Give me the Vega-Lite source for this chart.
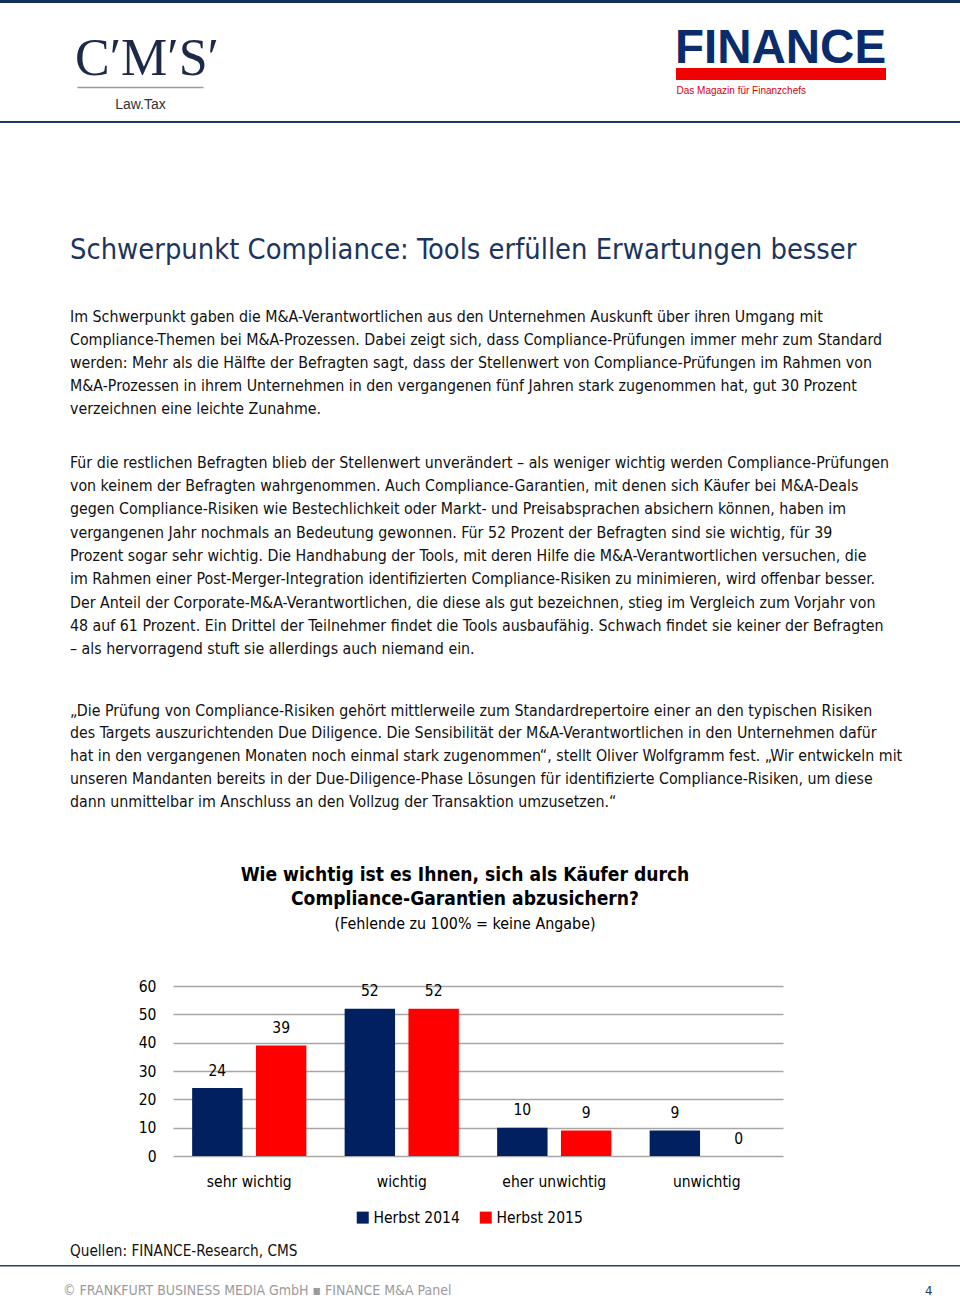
{
  "$schema": "https://vega.github.io/schema/vega-lite/v6.json",
  "background": "white",
  "padding": 0,
  "data": {"values": [{"k": 1}]},
  "vconcat": [
    {"width": 960, "height": 3, "view": {"fill": "#16305c", "stroke": null}, "mark": {"type": "point", "opacity": 0, "size": 0}, "encoding": {}},
    {"width": 960, "height": 65, "mark": {"type": "point", "opacity": 0, "size": 0}, "encoding": {}},
    {
      "hconcat": [
        {"width": 77, "height": 1, "mark": {"type": "point", "opacity": 0, "size": 0}, "encoding": {}},
        {
          "width": 126, "height": 19,
          "title": {"text": "C′M′S′", "font": "Liberation Serif", "fontSize": 52, "color": "#1c2a48", "dx": -2, "offset": -18, "anchor": "start"},
          "mark": {"type": "point", "opacity": 0, "size": 0},
          "encoding": {
            "x": {"datum": 0, "type": "quantitative", "scale": {"domain": [0, 1]},
              "axis": {"orient": "bottom", "labels": false, "ticks": false, "grid": false, "domain": true, "domainColor": "#9a9a9a", "domainWidth": 1.5, "title": "Law.Tax", "titleFont": "Liberation Sans", "titleFontSize": 14, "titleFontWeight": "normal", "titleColor": "#333333", "titlePadding": 10}}
          }
        },
        {"width": 473, "height": 1, "mark": {"type": "point", "opacity": 0, "size": 0}, "encoding": {}},
        {
          "width": 210, "height": 12,
          "view": {"fill": "#f00000", "stroke": null},
          "title": {"text": "FINANCE", "font": "Liberation Sans", "fontWeight": "bold", "fontSize": 47.5, "color": "#0b2c6b", "dx": -1, "offset": -4.5, "anchor": "start"},
          "mark": {"type": "point", "opacity": 0, "size": 0},
          "encoding": {
            "x": {"datum": 0, "type": "quantitative", "scale": {"domain": [0, 1]},
              "axis": {"orient": "bottom", "labels": false, "ticks": false, "grid": false, "domain": false, "title": "Das Magazin für Finanzchefs", "titleAnchor": "start", "titleFont": "Liberation Sans", "titleFontSize": 10, "titleFontWeight": "normal", "titleColor": "#d8000f", "titlePadding": 5}}
          }
        }
      ],
      "bounds": "flush",
      "spacing": 0
    },
    {"width": 960, "height": 53, "mark": {"type": "point", "opacity": 0, "size": 0}, "encoding": {}},
    {"width": 960, "height": 2, "view": {"fill": "#1f3864", "stroke": null}, "mark": {"type": "point", "opacity": 0, "size": 0}, "encoding": {}},
    {"width": 960, "height": 145.1, "mark": {"type": "point", "opacity": 0, "size": 0}, "encoding": {}},
    {
      "width": 960, "height": 152.3,
      "title": {"text": "Schwerpunkt Compliance: Tools erfüllen Erwartungen besser", "fontSize": 28.8, "color": "#1c355e", "dx": 70},
      "mark": {"type": "point", "opacity": 0, "size": 0}, "encoding": {}
    },
    {
      "width": 960, "height": 239.8,
      "title": {"text": [
        "Im Schwerpunkt gaben die M&A-Verantwortlichen aus den Unternehmen Auskunft über ihren Umgang mit",
        "Compliance-Themen bei M&A-Prozessen. Dabei zeigt sich, dass Compliance-Prüfungen immer mehr zum Standard",
        "werden: Mehr als die Hälfte der Befragten sagt, dass der Stellenwert von Compliance-Prüfungen im Rahmen von",
        "M&A-Prozessen in ihrem Unternehmen in den vergangenen fünf Jahren stark zugenommen hat, gut 30 Prozent",
        "verzeichnen eine leichte Zunahme."
      ], "fontSize": 15.8, "lineHeight": 23.0, "color": "#111111", "dx": 70},
      "mark": {"type": "point", "opacity": 0, "size": 0}, "encoding": {}
    },
    {
      "width": 960, "height": 152.9,
      "title": {"text": [
        "Für die restlichen Befragten blieb der Stellenwert unverändert – als weniger wichtig werden Compliance-Prüfungen",
        "von keinem der Befragten wahrgenommen. Auch Compliance-Garantien, mit denen sich Käufer bei M&A-Deals",
        "gegen Compliance-Risiken wie Bestechlichkeit oder Markt- und Preisabsprachen absichern können, haben im",
        "vergangenen Jahr nochmals an Bedeutung gewonnen. Für 52 Prozent der Befragten sind sie wichtig, für 39",
        "Prozent sogar sehr wichtig.  Die Handhabung der Tools, mit deren Hilfe die M&A-Verantwortlichen versuchen, die",
        "im Rahmen einer Post-Merger-Integration identifizierten Compliance-Risiken zu minimieren, wird offenbar besser.",
        "Der Anteil der Corporate-M&A-Verantwortlichen, die diese als gut bezeichnen, stieg im Vergleich zum Vorjahr von",
        "48 auf 61 Prozent. Ein Drittel der Teilnehmer findet die Tools ausbaufähig. Schwach findet sie keiner der Befragten",
        "– als hervorragend stuft sie allerdings auch niemand ein."
      ], "fontSize": 15.8, "lineHeight": 23.3, "color": "#111111", "dx": 70},
      "mark": {"type": "point", "opacity": 0, "size": 0}, "encoding": {}
    },
    {
      "width": 960, "height": 170.1,
      "title": {"text": [
        "„Die Prüfung von Compliance-Risiken gehört mittlerweile zum Standardrepertoire einer an den typischen Risiken",
        "des Targets auszurichtenden Due Diligence. Die Sensibilität der M&A-Verantwortlichen in den Unternehmen dafür",
        "hat in den vergangenen Monaten noch einmal stark zugenommen“, stellt Oliver Wolfgramm fest. „Wir entwickeln mit",
        "unseren Mandanten bereits in der Due-Diligence-Phase Lösungen für identifizierte Compliance-Risiken, um diese",
        "dann unmittelbar im Anschluss an den Vollzug der Transaktion umzusetzen.“"
      ], "fontSize": 15.8, "lineHeight": 22.9, "color": "#111111", "dx": 70},
      "mark": {"type": "point", "opacity": 0, "size": 0}, "encoding": {}
    },
    {
      "hconcat": [
        {"width": 173, "height": 1, "mark": {"type": "point", "opacity": 0, "size": 0}, "encoding": {}},
        {
          "width": 610, "height": 170,
          "data": {"values": [
            {"Antwort": "sehr wichtig", "Umfrage": "Herbst 2014", "Wert": 24},
            {"Antwort": "sehr wichtig", "Umfrage": "Herbst 2015", "Wert": 39},
            {"Antwort": "wichtig", "Umfrage": "Herbst 2014", "Wert": 52},
            {"Antwort": "wichtig", "Umfrage": "Herbst 2015", "Wert": 52},
            {"Antwort": "eher unwichtig", "Umfrage": "Herbst 2014", "Wert": 10},
            {"Antwort": "eher unwichtig", "Umfrage": "Herbst 2015", "Wert": 9},
            {"Antwort": "unwichtig", "Umfrage": "Herbst 2014", "Wert": 9},
            {"Antwort": "unwichtig", "Umfrage": "Herbst 2015", "Wert": 0}
          ]},
          "title": {
            "text": ["Wie wichtig ist es Ihnen, sich als Käufer durch", "Compliance-Garantien abzusichern?"],
            "subtitle": "(Fehlende zu 100% = keine Angabe)",
            "anchor": "middle", "dx": -13, "offset": 46.8,
            "fontSize": 19.1, "fontWeight": "bold", "lineHeight": 24.7, "color": "#000000",
            "subtitleFontSize": 15.9, "subtitleColor": "#000000", "subtitlePadding": 6.9,
            "subtitleFont": "DejaVu Sans Condensed, sans-serif"
          },
          "encoding": {
            "x": {"field": "Antwort", "type": "nominal", "sort": ["sehr wichtig", "wichtig", "eher unwichtig", "unwichtig"],
              "scale": {"paddingInner": 0, "paddingOuter": 0},
              "axis": {"title": null, "labelAngle": 0, "labelPadding": 18.3, "domain": false, "ticks": false, "grid": false, "labelFontSize": 15.5, "labelColor": "#000000", "labelLimit": 0}},
            "xOffset": {"field": "Umfrage", "type": "nominal", "sort": ["Herbst 2014", "Herbst 2015"], "scale": {"paddingInner": 0.21, "paddingOuter": 0.3}},
            "y": {"field": "Wert", "type": "quantitative", "scale": {"domain": [0, 60], "nice": false},
              "axis": {"title": null, "values": [0, 10, 20, 30, 40, 50, 60], "grid": true, "gridColor": "#a6a6a6", "gridWidth": 1.5, "domain": false, "ticks": false, "labelPadding": 17, "labelFontSize": 15.5, "labelColor": "#000000"}}
          },
          "layer": [
            {
              "mark": {"type": "bar"},
              "encoding": {
                "color": {"field": "Umfrage", "type": "nominal",
                  "scale": {"domain": ["Herbst 2014", "Herbst 2015"], "range": ["#002060", "#ff0000"]},
                  "legend": {"orient": "none", "legendX": 182, "legendY": 223.5, "direction": "horizontal", "title": null, "symbolType": "square", "symbolSize": 144, "symbolStrokeWidth": 0, "labelFontSize": 15.5, "labelColor": "#000000", "columnPadding": 18, "labelOffset": 3, "padding": 0, "labelLimit": 0}}
              }
            },
            {
              "mark": {"type": "text", "dy": -12.5, "baseline": "alphabetic", "fontSize": 15.5, "color": "#000000"},
              "encoding": {"text": {"field": "Wert", "type": "quantitative"}}
            }
          ]
        }
      ],
      "bounds": "flush",
      "spacing": 0,
      "resolve": {"scale": {"color": "independent"}, "legend": {"color": "independent"}}
    },
    {"width": 960, "height": 278.6, "mark": {"type": "point", "opacity": 0, "size": 0}, "encoding": {}},
    {
      "width": 960, "height": 1.5,
      "view": {"fill": "#2a3f66", "stroke": null},
      "title": {"text": "Quellen: FINANCE-Research, CMS", "fontSize": 15.2, "color": "#111111", "dx": 70, "offset": 6.1},
      "mark": {"type": "point", "opacity": 0, "size": 0}, "encoding": {}
    },
    {"width": 960, "height": 34.7, "mark": {"type": "point", "opacity": 0, "size": 0}, "encoding": {}},
    {
      "hconcat": [
        {
          "width": 880, "height": 1,
          "title": {"text": "© FRANKFURT BUSINESS MEDIA GmbH ▪ FINANCE M&A Panel", "fontSize": 14, "color": "#9b9b9b", "dx": 63},
          "mark": {"type": "point", "opacity": 0, "size": 0}, "encoding": {}
        },
        {
          "width": 80, "height": 1,
          "title": {"text": "4", "fontSize": 13, "color": "#1f3864", "dx": 45},
          "mark": {"type": "point", "opacity": 0, "size": 0}, "encoding": {}
        }
      ],
      "bounds": "flush",
      "spacing": 0
    }
  ],
  "bounds": "flush",
  "spacing": 0,
  "resolve": {"scale": {"color": "independent"}, "legend": {"color": "independent"}},
  "config": {
    "view": {"stroke": null},
    "concat": {"spacing": 0},
    "font": "DejaVu Sans Condensed, sans-serif",
    "title": {"anchor": "start", "frame": "group", "offset": 0, "font": "DejaVu Sans Condensed, sans-serif", "fontWeight": "normal", "baseline": "top"},
    "axis": {"labelFont": "DejaVu Sans Condensed, sans-serif", "titleFont": "DejaVu Sans Condensed, sans-serif"},
    "legend": {"labelFont": "DejaVu Sans Condensed, sans-serif"},
    "text": {"font": "DejaVu Sans Condensed, sans-serif"}
  }
}
